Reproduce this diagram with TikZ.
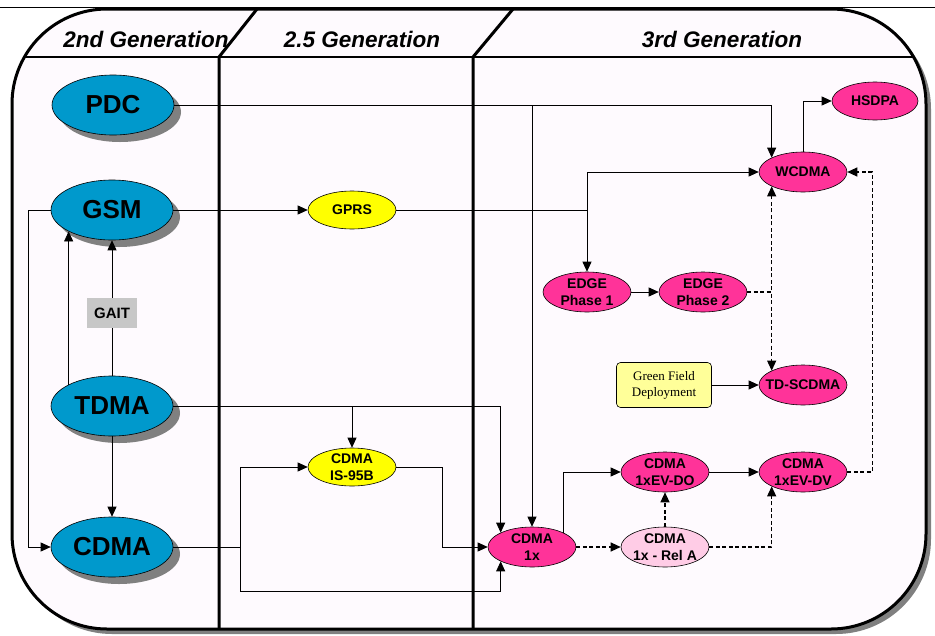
\documentclass[tikz,border=0pt]{standalone}
\usepackage{fontspec}
\setmainfont{Liberation Sans}
\newfontfamily\timesfont{Liberation Serif}
\usetikzlibrary{%
  arrows.meta,%
  shapes.geometric,% wg. ellipse
  shadows,%
  positioning%
}
\definecolor{gsmblue}{RGB}{0,153,204}
\definecolor{thirdpink}{RGB}{255,51,153}
\definecolor{relpink}{RGB}{255,204,230}
\definecolor{gengold}{RGB}{255,255,0}
\definecolor{fieldyellow}{RGB}{255,255,153}
\definecolor{framebg}{RGB}{254,250,254}
\definecolor{shadowgray}{RGB}{128,128,128}

\begin{document}
\begin{tikzpicture}
  [
  x=1pt, y=-1pt, >={Triangle[length=10pt,width=9pt]}, line width=0.8pt,
  second/.style={ellipse, minimum width=122pt, minimum height=60pt, inner sep=0pt, draw=black, line width=0.6pt, fill=gsmblue,
    font=\fontsize{26}{28}\selectfont\bfseries, drop shadow={shadow xshift=7pt, shadow yshift=-7pt, fill=shadowgray, opacity=1}},
  interim/.style={ellipse, minimum width=88pt, minimum height=38pt, inner xsep=-12pt, inner ysep=-4pt, draw=black, line width=0.6pt,
    fill=gengold, align=center, font=\fontsize{14}{17.5}\selectfont\bfseries},
  third/.style={interim, fill=thirdpink, minimum height=40pt},
  gait/.style={rectangle, minimum width=50pt, minimum height=30pt, fill=black!22, font=\fontsize{15}{17}\selectfont\bfseries},
  greenfield/.style={rectangle, rounded corners=4pt, minimum width=95pt, minimum height=45pt, draw=black, line width=0.6pt,
    fill=fieldyellow, align=center, font=\timesfont\fontsize{13}{16}\selectfont},
  gen/.style={anchor=base, font=\fontsize{22.5}{24}\selectfont\bfseries\itshape},
  link/.style={->, line width=0.8pt},
  future/.style={->, line width=1.2pt, dash pattern=on 4pt off 2.5pt}
  ]

\useasboundingbox (0,0) rectangle (935,635);
\draw[line width=0.6pt] (0,7) -- (935,7);
\draw[line width=3pt, fill=framebg, rounded corners=95pt,
  drop shadow={shadow xshift=5pt, shadow yshift=-5pt, fill=shadowgray, opacity=1}] (12,9) rectangle (926,629);
\draw[line width=2.5pt] (25,57) -- (913,57);

\node[gen] (h2) at (146,47) {2nd Generation};
\node[gen] (h25) at (362,47) {2.5 Generation};
\node[gen] (h3) at (722,47) {3rd Generation};

\draw[line width=3pt] (257,9) -- (219,57) -- (219,629);
\draw[line width=3pt] (513,9) -- (473,57) -- (473,629);

\node[second] (pdc) at (113,105) {PDC};
\node[second] (gsm) at (112,210) {GSM};
\node[second] (tdma) at (112,406) {TDMA};
\node[second] (cdma) at (112,547) {CDMA};
\node[gait] (gaitbox) at (112,313) {GAIT};

\node[interim] (gprs) at (352,210) {GPRS};
\node[interim] (is95b) at (352,467) {CDMA\\IS-95B};

\node[third] (wcdma) at (803,172) {WCDMA};
\node[third, minimum width=86pt, minimum height=38pt] (hsdpa) at (875,101) {HSDPA};
\node[third] (edge1) at (587,292) {EDGE\\Phase 1};
\node[third] (edge2) at (703,292) {EDGE\\Phase 2};
\node[third] (tdscdma) at (803,385) {TD-SCDMA};
\node[greenfield] (green) at (664,385) {Green Field\\Deployment};
\node[third] (cdma1x) at (532,547) {CDMA\\1x};
\node[third, fill=relpink] (rela) at (665,547) {CDMA\\1x - Rel A};
\node[third] (evdo) at (665,472) {CDMA\\1xEV-DO};
\node[third] (evdv) at (803,472) {CDMA\\1xEV-DV};

\draw[link] (pdc.east) -| (wcdma.north west);
\draw[link] (pdc.east -| cdma1x.north) -- (cdma1x.north);
\draw[link] (gsm) -- (gprs);
\draw[link] (gsm.west) -- ++(-22,0) |- (cdma.west);
\draw[link] (tdma.north west) -- (gsm.south west);
\draw (tdma) -- (gaitbox);
\draw[link] (gaitbox) -- (gsm);
\draw[link] (tdma) -- (cdma);
\draw[link] (tdma.east) -| (cdma1x.north west);
\draw[link] (tdma.east -| is95b.north) -- (is95b.north);

\coordinate (cdmasplit) at (240,547);
\draw[link] (cdma.east) -- (cdmasplit) |- (is95b.west);
\draw[link] (cdmasplit) -- ++(0,44) -| (cdma1x.south west);
\draw[link] (is95b.east) -- ++(46,0) |- (cdma1x.west);

\draw[link] (gprs.east) -| (edge1.north);
\draw[link] (gprs.east -| edge1.north) |- (wcdma.west);
\draw[link] (edge1) -- (edge2);
\draw[future] (edge2.east) -| (wcdma.south west);
\draw[future] (edge2.east) -| (tdscdma.north west);
\draw[link] (green) -- (tdscdma);
\draw[link] (wcdma.north) |- (hsdpa.west);

\draw[link] (cdma1x.north east) |- (evdo.west);
\draw[future] (cdma1x) -- (rela);
\draw[future] (rela) -- (evdo);
\draw[future] (rela.east) -| (evdv.south west);
\draw[link] (evdo) -- (evdv);
\draw[future] (evdv.east) -- ++(25,0) |- (wcdma.east);

\end{tikzpicture}
\end{document}
